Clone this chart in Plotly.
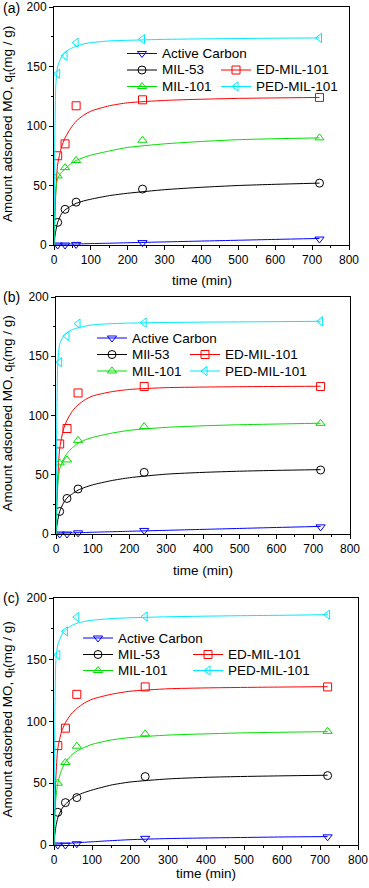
import plotly.graph_objects as go

# ---------------- data ----------------
T_DATA = [10, 30, 60, 240, 720]
T_FIT = [0, 2, 5, 10, 20, 30, 45, 60, 80, 100, 150, 200, 300, 400, 500, 600, 720]

NAMES = ["Active Carbon", "MIL-53", "ED-MIL-101", "MIL-101", "PED-MIL-101"]
NAMES_B = ["Active Carbon", "MIl-53", "ED-MIL-101", "MIL-101", "PED-MIL-101"]

# panel (a) measured
a_ac = [0.0, 0.0, 0.5, 2.0, 5.0]
a_m53 = [19, 30, 36, 47, 52]
a_ed = [75, 85, 117, 122, 124]
a_m101 = [58, 65, 71, 88, 90]
a_ped = [144, 159, 170, 173, 174]
# panel (a) fitted curves
a_ac_fit = [0.5, 0.5, 0.6, 0.6, 0.7, 0.7, 0.8, 0.9, 1.0, 1.2, 1.5, 1.9, 2.6, 3.3, 4.0, 4.7, 5.5]
a_m53_fit = [0, 6, 12, 19, 26, 29.5, 32.5, 35, 37, 38.5, 41.5, 43.5, 46.5, 48.5, 50, 51, 52]
a_ed_fit = [0, 20, 45, 68, 82, 90, 98, 104, 109, 112.5, 117, 119.5, 121.5, 122.5, 123.2, 123.6, 124]
a_m101_fit = [0, 25, 45, 56, 61, 64, 68, 71, 73.5, 75.5, 79, 82, 85, 87, 88.5, 89.3, 90]
a_ped_fit = [0, 80, 135, 150, 158, 162, 165, 167, 169, 170, 171.5, 172, 172.8, 173.2, 173.5, 173.8, 174]

# panel (b) measured
b_ac = [0.0, 0.0, 1.0, 3.0, 6.0]
b_m53 = [19, 30, 38, 52, 54]
b_ed = [76, 89, 119, 124.5, 124.5]
b_m101 = [60, 62.5, 79, 90.6, 93.4]
b_ped = [145, 167, 177.5, 178.4, 179.5]
b_ac_fit = [0.5, 0.5, 0.6, 0.7, 0.8, 0.9, 1.0, 1.1, 1.3, 1.5, 1.9, 2.3, 3.1, 3.9, 4.7, 5.5, 6.4]
b_m53_fit = [0, 6, 12, 19, 26, 30.5, 34, 37, 39.5, 41.5, 45, 47.5, 50.5, 52, 53, 53.7, 54.3]
b_ed_fit = [0, 22, 48, 72, 88, 96, 104, 109, 113.5, 116.5, 120, 122, 123.5, 124, 124.3, 124.5, 124.7]
b_m101_fit = [0, 25, 42, 55, 63, 68, 73, 76.5, 79.5, 81.5, 85, 87.5, 90, 91.3, 92.2, 92.8, 93.5]
b_ped_fit = [0, 90, 145, 160, 167, 170, 172.5, 174, 175.5, 176.5, 177.5, 178, 178.5, 178.8, 179, 179.2, 179.5]

# panel (c) measured
c_ac = [0.0, 0.0, 1.0, 5.4, 6.6]
c_m53 = [26.5, 34.3, 38.4, 55.4, 56.2]
c_ed = [80.5, 94.6, 122, 128, 128]
c_m101 = [50, 66.8, 80, 90, 92]
c_ped = [154, 173, 184.6, 185, 186.5]
c_ac_fit = [0.5, 0.6, 0.7, 0.8, 1.0, 1.2, 1.5, 1.8, 2.2, 2.6, 3.5, 4.3, 5.2, 5.7, 6.1, 6.5, 6.8]
c_m53_fit = [0, 8, 15, 22, 29, 33, 37, 40, 42.5, 44.5, 48.5, 51, 53.5, 54.8, 55.5, 56, 56.5]
c_ed_fit = [0, 25, 55, 78, 92, 99, 106, 110.5, 115, 118, 122, 124.5, 126.5, 127.2, 127.6, 127.9, 128.2]
c_m101_fit = [0, 22, 38, 50, 61, 67, 72.5, 76, 79, 81.5, 85, 87, 89, 90, 90.8, 91.3, 91.8]
c_ped_fit = [0, 95, 150, 162, 170, 174, 177.5, 179.5, 181, 182, 183.3, 184, 184.8, 185.3, 185.7, 186, 186.5]

X_TICKS = [0, 100, 200, 300, 400, 500, 600, 700, 800]
Y_TICKS = [0, 50, 100, 150, 200]

# ---------------- styling ----------------
COLORS = ["#0000ff", "#000000", "#ff0000", "#00e000", "#00e8ff"]
SYMBOLS = ["triangle-down-open", "circle-open", "square-open", "triangle-up-open", "triangle-left-open"]
FONT = "Liberation Sans, Arial, sans-serif"
MSIZE = 8

W, H = 369, 888
# panel boxes in pixels: (left, right, top, bottom)
BOXES = [(54, 349, 7, 245), (56, 350, 297, 534), (54, 358, 598, 845)]
# legend geometry in pixels: (col1 line start, col2 line start, row ys)
LEG = [(127, 221, [53.5, 70, 86.5]), (97, 190, [338, 354.5, 371]), (83, 193, [638, 654.5, 670.5])]
# legend slot of each series: (col, row)
SLOTS = [(0, 0), (0, 1), (1, 1), (0, 2), (1, 2)]
XTITLE_Y = [280, 570, 873]
LABELS = ["(a)", "(b)", "(c)"]
LABEL_Y = [8, 297, 598]

panels = [
    (NAMES, [a_ac, a_m53, a_ed, a_m101, a_ped], [a_ac_fit, a_m53_fit, a_ed_fit, a_m101_fit, a_ped_fit]),
    (NAMES_B, [b_ac, b_m53, b_ed, b_m101, b_ped], [b_ac_fit, b_m53_fit, b_ed_fit, b_m101_fit, b_ped_fit]),
    (NAMES, [c_ac, c_m53, c_ed, c_m101, c_ped], [c_ac_fit, c_m53_fit, c_ed_fit, c_m101_fit, c_ped_fit]),
]

fig = go.Figure()
annotations = []
shapes = []
layout = dict(
    width=W, height=H, margin=dict(l=0, r=0, t=0, b=0, autoexpand=False),
    paper_bgcolor="white", plot_bgcolor="rgba(0,0,0,0)",
    font=dict(family=FONT, size=12, color="black"),
    showlegend=False,
)

def px_x(x):
    return x / W

def px_y(y):
    return 1 - y / H

for p, (names, meas, fits) in enumerate(panels):
    sfx = "" if p == 0 else str(p + 1)
    xa, ya = "x" + sfx, "y" + sfx
    l, r, t, b = BOXES[p]
    for i in range(5):
        fig.add_trace(go.Scatter(x=T_FIT, y=fits[i], mode="lines",
                                 line=dict(color=COLORS[i], width=1, shape="spline", smoothing=0.6),
                                 xaxis=xa, yaxis=ya, hoverinfo="skip"))
        fig.add_trace(go.Scatter(x=T_DATA, y=meas[i], mode="markers",
                                 marker=dict(symbol=SYMBOLS[i], size=MSIZE, color=COLORS[i],
                                             line=dict(width=1, color=COLORS[i])),
                                 xaxis=xa, yaxis=ya, cliponaxis=False))
    axis_common = dict(showline=True, linecolor="black", linewidth=1, mirror=True, showgrid=False, zeroline=False,
                       ticks="outside", ticklen=4, tickwidth=1, tickcolor="black",
                       tickfont=dict(family=FONT, size=12))
    layout["xaxis" + sfx] = dict(axis_common, domain=[l / W, r / W], range=[0, 800], tickvals=X_TICKS,
                                 anchor=ya,
                                 minor=dict(ticks="outside", ticklen=2, tickcolor="black", dtick=50, showgrid=False))
    layout["yaxis" + sfx] = dict(axis_common, domain=[1 - b / H, 1 - t / H], range=[0, 200], tickvals=Y_TICKS,
                                 anchor=xa,
                                 minor=dict(ticks="outside", ticklen=2, tickcolor="black", dtick=25, showgrid=False))
    # axis titles
    annotations.append(dict(text="Amount adsorbed MO, q<sub>t</sub>(mg / g)", xref="paper", yref="paper",
                            x=px_x(8), y=px_y((t + b) / 2 - 2), textangle=-90, showarrow=False,
                            xanchor="center", yanchor="middle", font=dict(family=FONT, size=13.5)))
    annotations.append(dict(text="time (min)", xref="paper", yref="paper",
                            x=px_x((l + r) / 2), y=px_y(XTITLE_Y[p]), showarrow=False,
                            xanchor="center", yanchor="middle", font=dict(family=FONT, size=13.5)))
    annotations.append(dict(text=LABELS[p], xref="paper", yref="paper", x=px_x(1), y=px_y(LABEL_Y[p]),
                            xanchor="left", yanchor="middle", showarrow=False, font=dict(family=FONT, size=14)))
    # manual legend
    c1, c2, rows = LEG[p]
    for i in range(5):
        col, row = SLOTS[i]
        x0 = c1 if col == 0 else c2
        y0 = rows[row]
        shapes.append(dict(type="line", xref="paper", yref="paper", x0=px_x(x0), x1=px_x(x0 + 30),
                           y0=px_y(y0), y1=px_y(y0), line=dict(color=COLORS[i], width=1)))
        fig.add_trace(go.Scatter(x=[x0 + 15], y=[y0], mode="markers",
                                 marker=dict(symbol=SYMBOLS[i], size=MSIZE, color=COLORS[i],
                                             line=dict(width=1, color=COLORS[i])),
                                 xaxis="x4", yaxis="y4", cliponaxis=False, hoverinfo="skip"))
        annotations.append(dict(text=names[i], xref="paper", yref="paper", x=px_x(x0 + 33), y=px_y(y0),
                                xanchor="left", yanchor="middle", showarrow=False,
                                font=dict(family=FONT, size=13.5)))

# overlay axis in pixel coordinates for the legend symbols
layout["xaxis4"] = dict(domain=[0, 1], range=[0, W], visible=False, anchor="y4", fixedrange=True)
layout["yaxis4"] = dict(domain=[0, 1], range=[H, 0], visible=False, anchor="x4", fixedrange=True)
layout["annotations"] = annotations
layout["shapes"] = shapes

fig.update_layout(**layout)
fig.write_html("out.html", config={"displayModeBar": False},
               post_script="document.body.style.margin='0';document.body.style.padding='0';")
